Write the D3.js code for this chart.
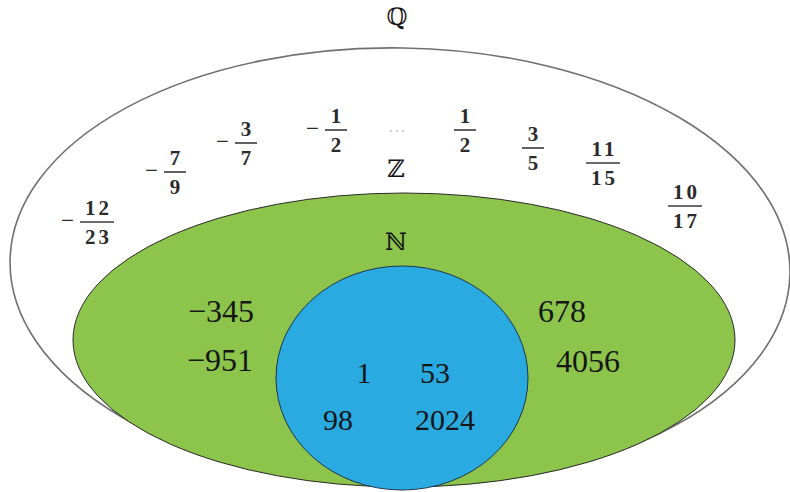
<!DOCTYPE html>
<html>
<head>
<meta charset="utf-8">
<script src="https://cdn.jsdelivr.net/npm/d3@7"></script>
<style>
  html, body { margin: 0; padding: 0; background: #fff; }
  svg { display: block; }
</style>
</head>
<body>
<div id="chart"></div>
<script>
// set names, outermost first
const setNames = ['ℚ', 'ℤ', 'ℕ'];
// ellipse of each set in diagram units [cx, cy, rx, ry, tilt in degrees]
const setShapes = [
  [0, 2, 390, 219, 1],
  [4, 75, 331, 147, 0],
  [2, 113, 126, 112, 0]
];
const setLabelPos = [[-3, -240], [-4, -88], [-4, -15]];

// rational (non-integer) members shown in ℚ
const fracSign = ['−', '−', '−', '−', '', '', '', ''];
const fracNum = ['12', '7', '3', '1', '1', '3', '11', '10'];
const fracDen = ['23', '9', '7', '2', '2', '5', '15', '17'];
const fracPos = [[-303, -43], [-225, -93], [-154, -122], [-64, -135], [65, -135], [133, -117], [203, -102], [285, -59]];

// negative integers and larger naturals shown in ℤ
const intValues = ['−345', '−951', '678', '4056'];
const intPos = [[-179, 57], [-180, 106], [162, 57], [188, 107]];

// naturals shown in ℕ
const natValues = ['1', '53', '98', '2024'];
const natPos = [[-36, 118], [35, 118], [-62, 165], [45, 165]];

const width = 790, height = 492;
const x = d3.scaleLinear().domain([-400, 390]).range([0, width]);
const y = d3.scaleLinear().domain([-265, 227]).range([0, height]);
const kx = x(1) - x(0), ky = y(1) - y(0);

const serif = "'Liberation Serif', 'Times New Roman', Times, serif";
const fills = ['#ffffff', '#8cc44c', '#29aae1'];
const strokes = ['#707070', '#2a2a2a', '#1d3550'];
const strokeW = [1.6, 1, 1];

const svg = d3.select('#chart').append('svg')
  .attr('width', width)
  .attr('height', height);

svg.append('g').selectAll('ellipse')
  .data(setShapes)
  .join('ellipse')
  .attr('cx', d => x(d[0]))
  .attr('cy', d => y(d[1]))
  .attr('rx', d => d[2] * kx)
  .attr('ry', d => d[3] * ky)
  .attr('transform', d => `rotate(${d[4]},${x(d[0])},${y(d[1])})`)
  .attr('fill', (d, i) => fills[i])
  .attr('stroke', (d, i) => strokes[i])
  .attr('stroke-width', (d, i) => strokeW[i]);

svg.append('g').selectAll('text')
  .data(setNames)
  .join('text')
  .attr('x', (d, i) => x(setLabelPos[i][0]))
  .attr('y', (d, i) => y(setLabelPos[i][1]))
  .attr('text-anchor', 'middle')
  .attr('font-family', 'DejaVu Serif, serif')
  .attr('font-size', 24)
  .attr('fill', '#111')
  .text(d => d);

// faint ellipsis between the negative and positive fractions
svg.append('text')
  .attr('x', x(-3)).attr('y', y(-133))
  .attr('text-anchor', 'middle')
  .style('font-family', serif)
  .attr('font-size', 18)
  .attr('fill', '#cccccc')
  .text('…');

const frac = svg.append('g').selectAll('g')
  .data(fracNum)
  .join('g')
  .attr('transform', (d, i) => `translate(${x(fracPos[i][0])},${y(fracPos[i][1])})`)
  .style('font-family', serif)
  .attr('font-size', 21)
  .attr('fill', '#2b2b2b');

const halfW = (d, i) => Math.max(d.length, fracDen[i].length) * 6 + 5;

frac.append('text')
  .attr('y', -7)
  .attr('text-anchor', 'middle')
  .attr('letter-spacing', d => d.length > 1 ? 3 : 0)
  .attr('dx', d => d.length > 1 ? 1.5 : 0)
  .attr('font-weight', 'bold')
  .text(d => d);
frac.append('text')
  .attr('y', 22)
  .attr('text-anchor', 'middle')
  .attr('letter-spacing', (d, i) => fracDen[i].length > 1 ? 3 : 0)
  .attr('dx', (d, i) => fracDen[i].length > 1 ? 1.5 : 0)
  .attr('font-weight', 'bold')
  .text((d, i) => fracDen[i]);
frac.append('line')
  .attr('x1', (d, i) => -halfW(d, i))
  .attr('x2', (d, i) => halfW(d, i))
  .attr('y1', 0).attr('y2', 0)
  .attr('stroke', '#3a3a3a')
  .attr('stroke-width', 1.6);
frac.append('text')
  .attr('x', (d, i) => -halfW(d, i) - 6)
  .attr('y', 6)
  .attr('text-anchor', 'end')
  .attr('font-size', 23)
  .text((d, i) => fracSign[i]);

const numStyle = (sel, size) => sel
  .style('font-family', serif)
  .attr('font-size', size)
  .attr('fill', '#161616')
  .attr('text-anchor', 'middle');

svg.append('g').selectAll('text')
  .data(intValues)
  .join('text')
  .attr('x', (d, i) => x(intPos[i][0]))
  .attr('y', (d, i) => y(intPos[i][1]))
  .call(numStyle, 32)
  .text(d => d);

svg.append('g').selectAll('text')
  .data(natValues)
  .join('text')
  .attr('x', (d, i) => x(natPos[i][0]))
  .attr('y', (d, i) => y(natPos[i][1]))
  .call(numStyle, 30)
  .text(d => d);
</script>
</body>
</html>
